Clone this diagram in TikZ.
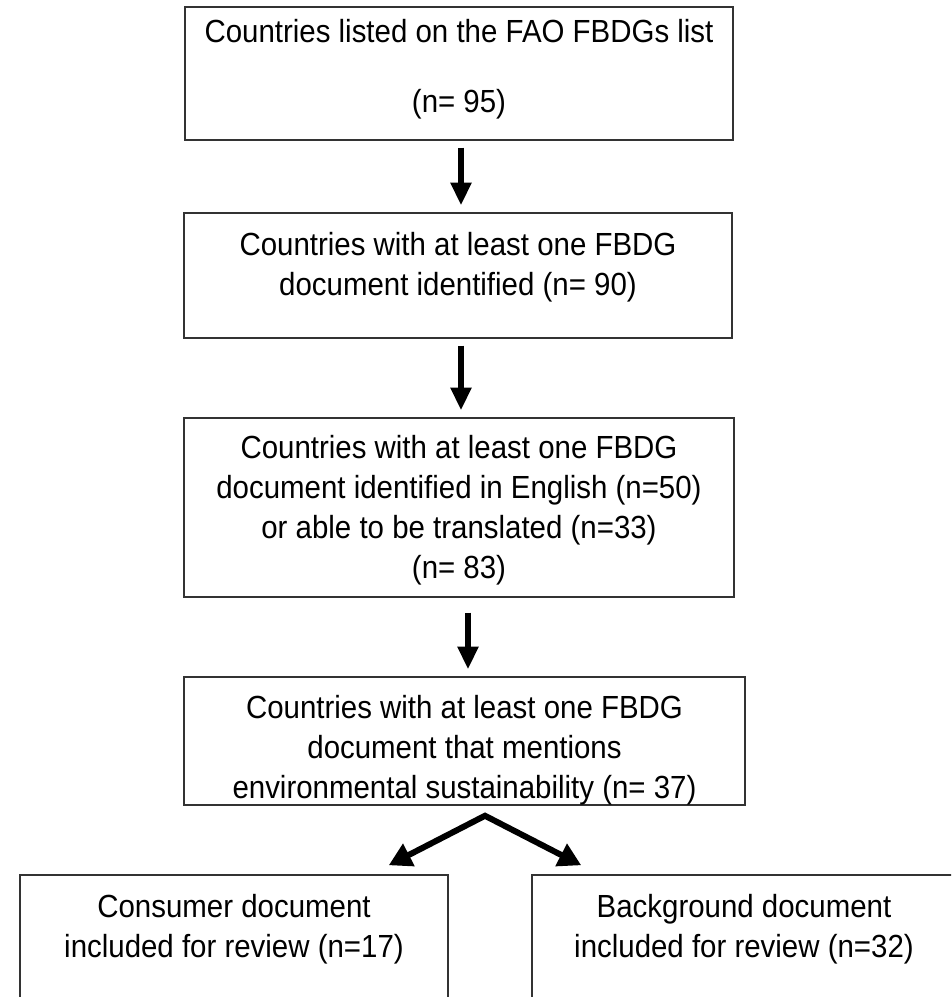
\documentclass[tikz,border=0pt]{standalone}
\usepackage{fontspec}
\setmainfont{Liberation Sans}[FakeStretch=0.92]
\usetikzlibrary{arrows.meta,calc}

\tikzstyle{box} = [draw=black!80, line width=1.1pt, inner sep=0pt]
\tikzstyle{txt} = [align=center, inner sep=0pt, anchor=base, font=\fontsize{24pt}{30pt}\selectfont]
\tikzstyle{arr} = [line width=4pt, -{Triangle[length=17pt, width=15pt]}]
\tikzstyle{fork} = [line width=4.5pt, miter limit=20, {Triangle[length=17pt, width=18pt]}-{Triangle[length=17pt, width=18pt]}]

\begin{document}
\begin{tikzpicture}[x=0.75pt, y=-0.75pt]
\useasboundingbox (0,0) rectangle (951,997);
\clip (0,0) rectangle (951,997);

% boxes
\node[box, minimum width=411pt, minimum height=99.75pt] (listed) at (459,73.5) {};
\node[box, minimum width=411pt, minimum height=93.75pt] (found) at (458,275.5) {};
\node[box, minimum width=412.5pt, minimum height=134.25pt] (english) at (459,507.5) {};
\node[box, minimum width=420.75pt, minimum height=96pt] (mention) at (464.5,741) {};
\node[box, minimum width=321pt, minimum height=150pt] (consumer) at (234,975) {};
\node[box, minimum width=318pt, minimum height=150pt] (background) at (744,975) {};

% texts (base = last line)
\node[txt] (listed-t) at ($(listed.north)+(0,106)$)
    {Countries listed on the FAO FBDGs list\\[22pt](n= 95)};
\node[txt] (found-t) at ($(found.north)+(0,83)$)
    {Countries with at least one FBDG\\document identified (n= 90)};
\node[txt] (english-t) at ($(english.north)+(0,161)$)
    {Countries with at least one FBDG\\document identified in English (n=50)\\or able to be translated (n=33)\\(n= 83)};
\node[txt] (mention-t) at ($(mention.north)+(0,122)$)
    {Countries with at least one FBDG\\document that mentions\\environmental sustainability (n= 37)};
\node[txt] (consumer-t) at ($(consumer.north)+(0,83)$)
    {Consumer document\\included for review (n=17)};
\node[txt] (background-t) at ($(background.north)+(0,83)$)
    {Background document\\included for review (n=32)};

% arrows
\draw[arr] ($(listed.south)+(2,7)$) -- ($(found.north)+(3,-7)$);
\draw[arr] ($(found.south)+(3,7)$) -- ($(english.north)+(2,-7)$);
\draw[arr] ($(english.south)+(9,15)$) -- ($(english.south |- mention.north)+(9,-7)$);

\coordinate (split) at ($(mention.south)+(20.5,10)$);
\coordinate (left-in) at ($(consumer.north east)+(-60,-9)$);
\coordinate (right-in) at ($(background.north west)+(50,-9)$);
\draw[fork] (left-in) -- (split) -- (right-in);
\end{tikzpicture}
\end{document}
